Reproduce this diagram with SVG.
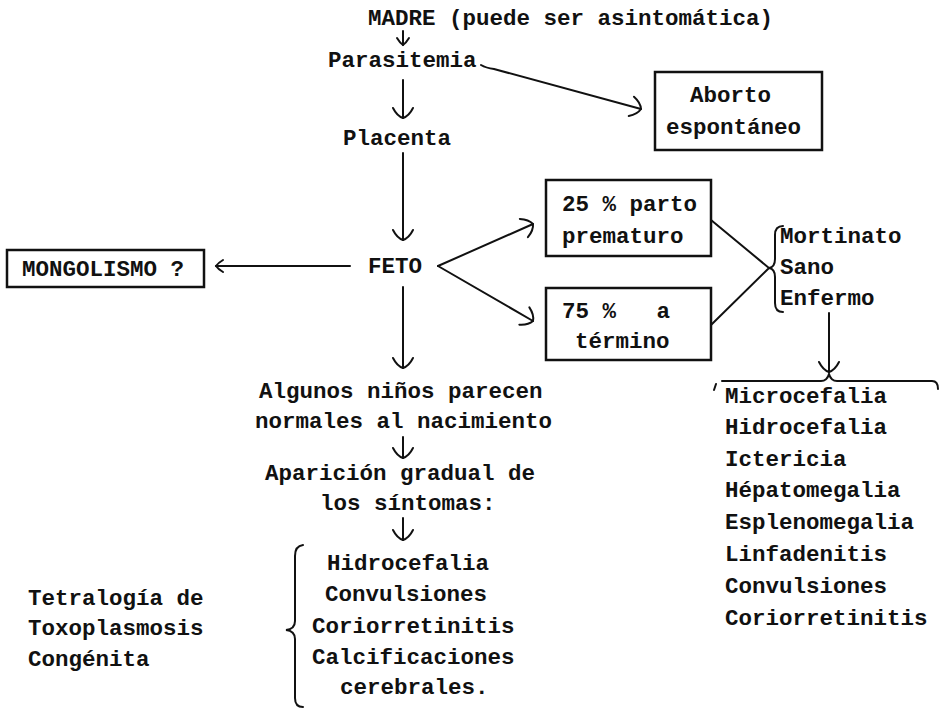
<svg xmlns="http://www.w3.org/2000/svg" width="943" height="709" viewBox="0 0 943 709">
<defs>
<style>
text{font-family:"Liberation Mono","Courier New",monospace;font-weight:bold;font-size:22.5px;fill:#111}
.ln{fill:none;stroke:#111;stroke-width:2;stroke-linecap:round}
.bx{fill:#fff;stroke:#111;stroke-width:2.5}
</style>
<marker id="ah" markerUnits="userSpaceOnUse" viewBox="-12 -12 14 24" refX="0" refY="0" markerWidth="14" markerHeight="24" orient="auto">
<path d="M -10,-10 Q -2,-6 0,0 Q -2,6 -10,10" fill="none" stroke="#111" stroke-width="2" stroke-linecap="round"/>
</marker>
<marker id="ahs" markerUnits="userSpaceOnUse" viewBox="-12 -12 14 24" refX="0" refY="0" markerWidth="14" markerHeight="24" orient="auto">
<path d="M -7,-6 Q -2,-3 0,0 Q -2,3 -7,6" fill="none" stroke="#111" stroke-width="2" stroke-linecap="round"/>
</marker>
</defs>
<rect width="943" height="709" fill="#fff"/>
<g id="connectors">
<path class="ln" d="M 403,31 L 403,45" marker-end="url(#ahs)"/>
<path class="ln" d="M 481,65 Q 486,68 494,69 L 641,109" marker-end="url(#ah)"/>
<path class="ln" d="M 403,80 L 403,118" marker-end="url(#ah)"/>
<path class="ln" d="M 403,153 L 403,240" marker-end="url(#ah)"/>
<path class="ln" d="M 350,266 L 216,266" marker-end="url(#ahs)"/>
<path class="ln" d="M 438,266 L 533,224" marker-end="url(#ah)"/>
<path class="ln" d="M 438,266 L 533,321" marker-end="url(#ah)"/>
<path class="ln" d="M 403,287 L 403,368" marker-end="url(#ah)"/>
<path class="ln" d="M 711,220 L 769,268 L 711,325"/>
<path class="ln" d="M 829,313 L 829,372" marker-end="url(#ah)"/>
<path class="ln" d="M 403,437 L 403,458" marker-end="url(#ah)"/>
<path class="ln" d="M 403,518 L 403,540" marker-end="url(#ah)"/>
</g>
<g id="madre"><text x="368" y="25">MADRE (puede ser asintomática)</text></g>
<g id="parasitemia"><text x="328" y="67">Parasitemia</text></g>
<g id="aborto">
<rect class="bx" x="655" y="72" width="167" height="78"/>
<text x="690" y="102">Aborto</text>
<text x="666" y="134">espontáneo</text>
</g>
<g id="placenta"><text x="343" y="145">Placenta</text></g>
<g id="feto"><text x="368" y="273">FETO</text></g>
<g id="mongolismo">
<rect class="bx" x="7" y="250" width="197" height="37"/>
<text x="22" y="276">MONGOLISMO ?</text>
</g>
<g id="prematuro">
<rect class="bx" x="546" y="180" width="165" height="76"/>
<text x="562" y="211">25 % parto</text>
<text x="562" y="243">prematuro</text>
</g>
<g id="termino">
<rect class="bx" x="546" y="288" width="165" height="72"/>
<text x="562" y="318" xml:space="preserve">75 %   a</text>
<text x="575" y="348">término</text>
</g>
<g id="resultado">
<path class="ln" d="M 783,226 Q 775,226 775,235 L 775,259 Q 775,267 769,268 Q 775,269 775,277 L 775,303 Q 775,312 783,312"/>
<text x="780" y="243">Mortinato</text>
<text x="780" y="274">Sano</text>
<text x="780" y="305">Enfermo</text>
</g>
<g id="lista-enfermo">
<path class="ln" d="M 714,390 L 716,384 M 722,381 L 821,381 Q 827,381 829,374 Q 831,381 837,381 L 932,381 Q 938,381 938,389"/>
<text x="725" y="403">Microcefalia</text>
<text x="725" y="434">Hidrocefalia</text>
<text x="725" y="466">Ictericia</text>
<text x="725" y="497">Hépatomegalia</text>
<text x="725" y="529">Esplenomegalia</text>
<text x="725" y="561">Linfadenitis</text>
<text x="725" y="593">Convulsiones</text>
<text x="725" y="625">Coriorretinitis</text>
</g>
<g id="algunos">
<text x="259" y="398">Algunos niños parecen</text>
<text x="255" y="428">normales al nacimiento</text>
</g>
<g id="aparicion">
<text x="265" y="480">Aparición gradual de</text>
<text x="320" y="510">los síntomas:</text>
</g>
<g id="sintomas">
<path class="ln" d="M 303,545 Q 295,546 295,556 L 295,621 Q 295,629 286,630 Q 295,631 295,639 L 295,698 Q 295,707 303,707"/>
<text x="327" y="570">Hidrocefalia</text>
<text x="325" y="601">Convulsiones</text>
<text x="312" y="633">Coriorretinitis</text>
<text x="312" y="664">Calcificaciones</text>
<text x="340" y="694">cerebrales.</text>
</g>
<g id="tetralogia">
<text x="28" y="605">Tetralogía de</text>
<text x="28" y="635">Toxoplasmosis</text>
<text x="28" y="666">Congénita</text>
</g>
</svg>
